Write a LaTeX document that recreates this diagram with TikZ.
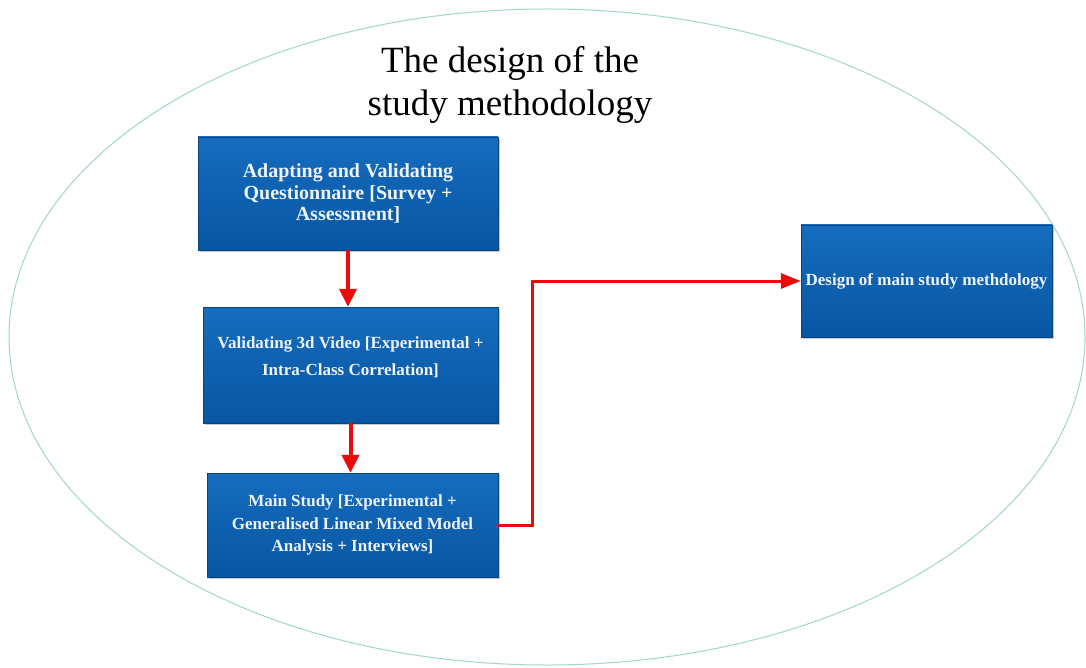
\documentclass[tikz,border=0pt]{standalone}
\usepackage{fontspec}
\setmainfont{Liberation Serif}
\usetikzlibrary{arrows.meta,shadows}

\definecolor{ringcol}{RGB}{160,214,204}
\definecolor{boxtop}{RGB}{22,108,190}
\definecolor{boxbot}{RGB}{8,86,162}
\definecolor{boxtext}{RGB}{238,243,252}
\definecolor{flowred}{RGB}{232,12,12}

\tikzset{
  stepbox/.style={rectangle, inner sep=0pt, top color=boxtop, bottom color=boxbot,
    draw=boxbot!80!black, line width=0.4pt,
    drop shadow={shadow xshift=1.6pt, shadow yshift=-1.6pt, opacity=0.35, fill=black!60}},
  boxlabel/.style={align=center, text=boxtext, inner sep=0pt, font=\bfseries},
  flow/.style={draw=flowred, line width=4pt, -{Triangle[length=18pt,width=17pt]}},
  elbow/.style={draw=flowred, line width=3pt, -{Triangle[length=20pt,width=15pt]}},
}

\begin{document}
\begin{tikzpicture}[x=1pt, y=-1pt]
  \fill[white] (0,0) rectangle (1086,668);
  \useasboundingbox (0,0) rectangle (1086,668);

  % outer ellipse
  \draw[ringcol, line width=1pt] (547,337) ellipse [x radius=538, y radius=328];

  % heading
  \node (title) [align=center, inner sep=0pt, font=\fontsize{37}{43}\selectfont]
    at (510,85) {The design of the\\study methodology};

  % process boxes
  \node (b1) [stepbox, minimum width=300pt, minimum height=113pt] at (348,193.5) {};
  \node (b1t) [boxlabel, font=\bfseries\fontsize{20}{21.5}\selectfont] at (b1.center)
    {Adapting and Validating\\Questionnaire [Survey +\\Assessment]};

  \node (b2) [stepbox, minimum width=295pt, minimum height=116pt] at (350.5,365) {};
  \node (b2t) [boxlabel, font=\bfseries\fontsize{17}{27}\selectfont] at ([yshift=7.5pt]b2.center)
    {Validating 3d Video [Experimental +\\Intra-Class Correlation]};

  \node (b3) [stepbox, minimum width=291pt, minimum height=104pt] at (352.5,525) {};
  \node (b3t) [boxlabel, font=\bfseries\fontsize{17}{22.5}\selectfont] at (b3.center)
    {Main Study [Experimental +\\Generalised Linear Mixed Model\\Analysis + Interviews]};

  \node (b4) [stepbox, minimum width=251pt, minimum height=112pt] at (926.5,281) {};
  \node (b4t) [boxlabel, font=\bfseries\fontsize{17}{20}\selectfont] at (b4.center)
    {Design of main study methdology};

  % connectors
  \draw[flow] (b1.south) -- (b1.south |- b2.north);
  \draw[flow] (b2.south) -- (b2.south |- b3.north);
  \coordinate (turn) at (532,525);
  \draw[elbow, line join=miter] (b3.east) -- (turn) |- (b4.west);
\end{tikzpicture}
\end{document}
